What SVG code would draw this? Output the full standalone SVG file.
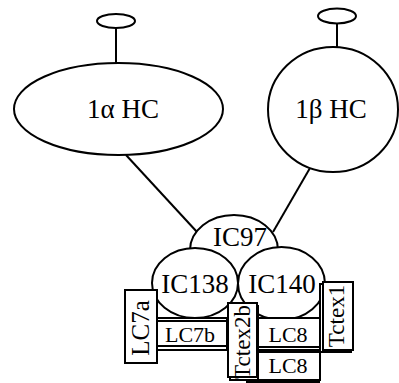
<svg xmlns="http://www.w3.org/2000/svg" width="399" height="383" viewBox="0 0 399 383">
<style>
.s{fill:#fff;stroke:#000;stroke-width:2}
.l{stroke:#000;stroke-width:2;fill:none}
text{font-family:'Liberation Serif','Times New Roman','DejaVu Serif',serif;fill:#000;text-anchor:middle}
.b{font-size:27px}
.m{font-size:27px}
.n{font-size:22px}
.v{font-size:23px}
.w{font-size:25px}
</style>
<g id="connectors">
<line class="l" x1="116" y1="28" x2="116" y2="63"/>
<line class="l" x1="337" y1="23" x2="337" y2="47"/>
<line class="l" x1="126" y1="155" x2="197" y2="232"/>
<line class="l" x1="310" y1="168" x2="273" y2="232"/>
</g>
<g id="knob-a"><ellipse class="s" cx="116" cy="21" rx="19" ry="7"/></g>
<g id="knob-b"><ellipse class="s" cx="337" cy="16" rx="19" ry="7.5"/></g>
<g id="hc1a"><ellipse class="s" cx="118.5" cy="109" rx="104.5" ry="46"/><text class="b" x="123" y="118">1α HC</text></g>
<g id="hc1b"><ellipse class="s" cx="333" cy="109.5" rx="65" ry="62.5"/><text class="b" x="331" y="118">1β HC</text></g>
<g id="ic97"><ellipse class="s" cx="234" cy="250" rx="44" ry="35"/><text class="m" x="240" y="246">IC97</text></g>
<g id="ic138"><ellipse class="s" cx="195" cy="283" rx="43" ry="35"/><text class="m" x="195" y="293">IC138</text></g>
<g id="ic140"><ellipse class="s" cx="281.5" cy="283.5" rx="43.5" ry="36.5"/><text class="m" x="282" y="293">IC140</text></g>
<g id="lc7b"><rect class="s" x="157" y="318" width="70" height="32"/><rect class="s" x="157" y="321" width="70" height="25"/><text class="n" x="190" y="342">LC7b</text></g>
<g id="lc8-lower"><rect class="s" x="247" y="355" width="72" height="27"/><rect class="s" x="257" y="352" width="63" height="28"/><text class="n" x="288" y="373">LC8</text></g>
<g id="lc8-upper"><rect class="s" x="257" y="318" width="63" height="32"/><rect class="s" x="257" y="318" width="63" height="29"/><text class="n" x="288" y="342">LC8</text></g>
<g id="tctex1"><rect class="s" x="320" y="284" width="31" height="68"/><rect class="s" x="323" y="282" width="30" height="68"/><text class="v" transform="translate(344 316) rotate(-90)">Tctex1</text></g>
<g id="lc7a"><rect class="s" x="125" y="290" width="32" height="73"/><text class="w" transform="translate(149 328) rotate(-90)">LC7a</text></g>
<g id="tctex2b"><rect class="s" x="230" y="306" width="28" height="74"/><rect class="s" x="228" y="303" width="29" height="74"/><text class="v" transform="translate(250 342) rotate(-90)">Tctex2b</text></g>
</svg>
